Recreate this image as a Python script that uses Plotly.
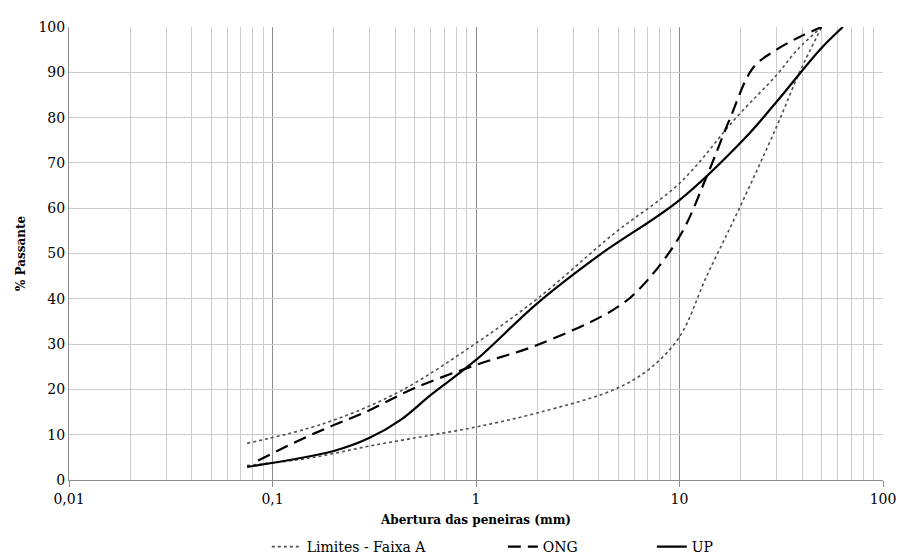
import plotly.graph_objects as go

# Faixa A limits
lim_sup_x = [0.075, 0.18, 0.42, 1, 2, 4.8, 10, 19, 30, 38, 50]
lim_sup_y = [8.1, 12.5, 19.5, 30.2, 40, 54.5, 65.5, 80, 89.4, 95, 100]
lim_inf_x = [0.075, 0.15, 0.3, 0.6, 1, 2, 4.8, 7.1, 10, 13.6, 19.7, 30, 38.9, 50]
lim_inf_y = [3.2, 4.8, 7.5, 9.9, 11.7, 14.8, 20, 24.5, 31.6, 45, 60, 78, 90, 100]

ong_x = [0.085, 0.13, 0.19, 0.28, 0.5, 1, 2, 4.7, 6.3, 10, 13.6, 17.6, 23, 30, 38.9, 50]
ong_y = [4.3, 8.4, 11.7, 14.8, 20.3, 25.4, 29.8, 37.5, 42, 53.7, 67, 79.5, 91, 95, 97.8, 100]

up_x = [0.075, 0.2, 0.3, 0.43, 0.6, 1, 2, 4.05, 10, 21, 30, 49, 63.5]
up_y = [2.9, 6.4, 9.3, 13.4, 18.8, 26.5, 39, 49.7, 61.8, 75.5, 83.5, 95, 100]

x_tickvals = [0.01, 0.1, 1, 10, 100]
x_ticktext = ["0,01", "0,1", "1", "10", "100"]

FONT = "DejaVu Serif"

fig = go.Figure()
fig.add_trace(go.Scatter(x=lim_sup_x, y=lim_sup_y, mode="lines", name="Limites - Faixa A",
                         line=dict(color="#505050", width=1.6, dash="dot", shape="spline"),
                         legendgroup="lim", legend="legend"))
fig.add_trace(go.Scatter(x=lim_inf_x, y=lim_inf_y, mode="lines", name="Limites - Faixa A",
                         line=dict(color="#505050", width=1.6, dash="dot", shape="spline"),
                         legendgroup="lim", showlegend=False, legend="legend"))
fig.add_trace(go.Scatter(x=ong_x, y=ong_y, mode="lines", name="ONG",
                         line=dict(color="black", width=2.2, dash="13px,7px", shape="spline"),
                         legend="legend2"))
fig.add_trace(go.Scatter(x=up_x, y=up_y, mode="lines", name="UP",
                         line=dict(color="black", width=2.2, shape="spline"),
                         legend="legend3"))

leg_common = dict(orientation="h", y=-0.148, yanchor="middle", xanchor="left",
                  font=dict(family=FONT, size=14, color="black"), bgcolor="rgba(0,0,0,0)")

fig.update_layout(
    width=899, height=559,
    margin=dict(l=69, r=16, t=27, b=79, autoexpand=False),
    plot_bgcolor="white", paper_bgcolor="white",
    font=dict(family=FONT, size=14, color="black"),
    showlegend=True,
    legend=dict(x=0.243, **leg_common),
    legend2=dict(x=0.533, **leg_common),
    legend3=dict(x=0.716, **leg_common),
)
fig.update_xaxes(
    type="log", range=[-2, 2], automargin=False,
    tickvals=x_tickvals, ticktext=x_ticktext,
    showgrid=True, gridcolor="#8c8c8c", gridwidth=1,
    minor=dict(dtick="D1", showgrid=True, gridcolor="#cccccc", gridwidth=1, ticks=""),
    ticks="outside", ticklen=6, tickcolor="#8c8c8c",
    showline=True, linecolor="#8c8c8c", linewidth=1,
    tickfont=dict(family=FONT, size=14),
    title=dict(text="<b>Abertura das peneiras (mm)</b>", font=dict(family=FONT, size=12), standoff=9),
    zeroline=False,
)
fig.update_yaxes(
    range=[0, 100], dtick=10, automargin=False,
    showgrid=True, gridcolor="#cccccc", gridwidth=1,
    showline=True, linecolor="#8c8c8c", linewidth=1,
    ticks="", tickfont=dict(family=FONT, size=14),
    title=dict(text="<b>% Passante</b>", font=dict(family=FONT, size=12), standoff=10),
    zeroline=False,
)
fig.write_html("out.html")
